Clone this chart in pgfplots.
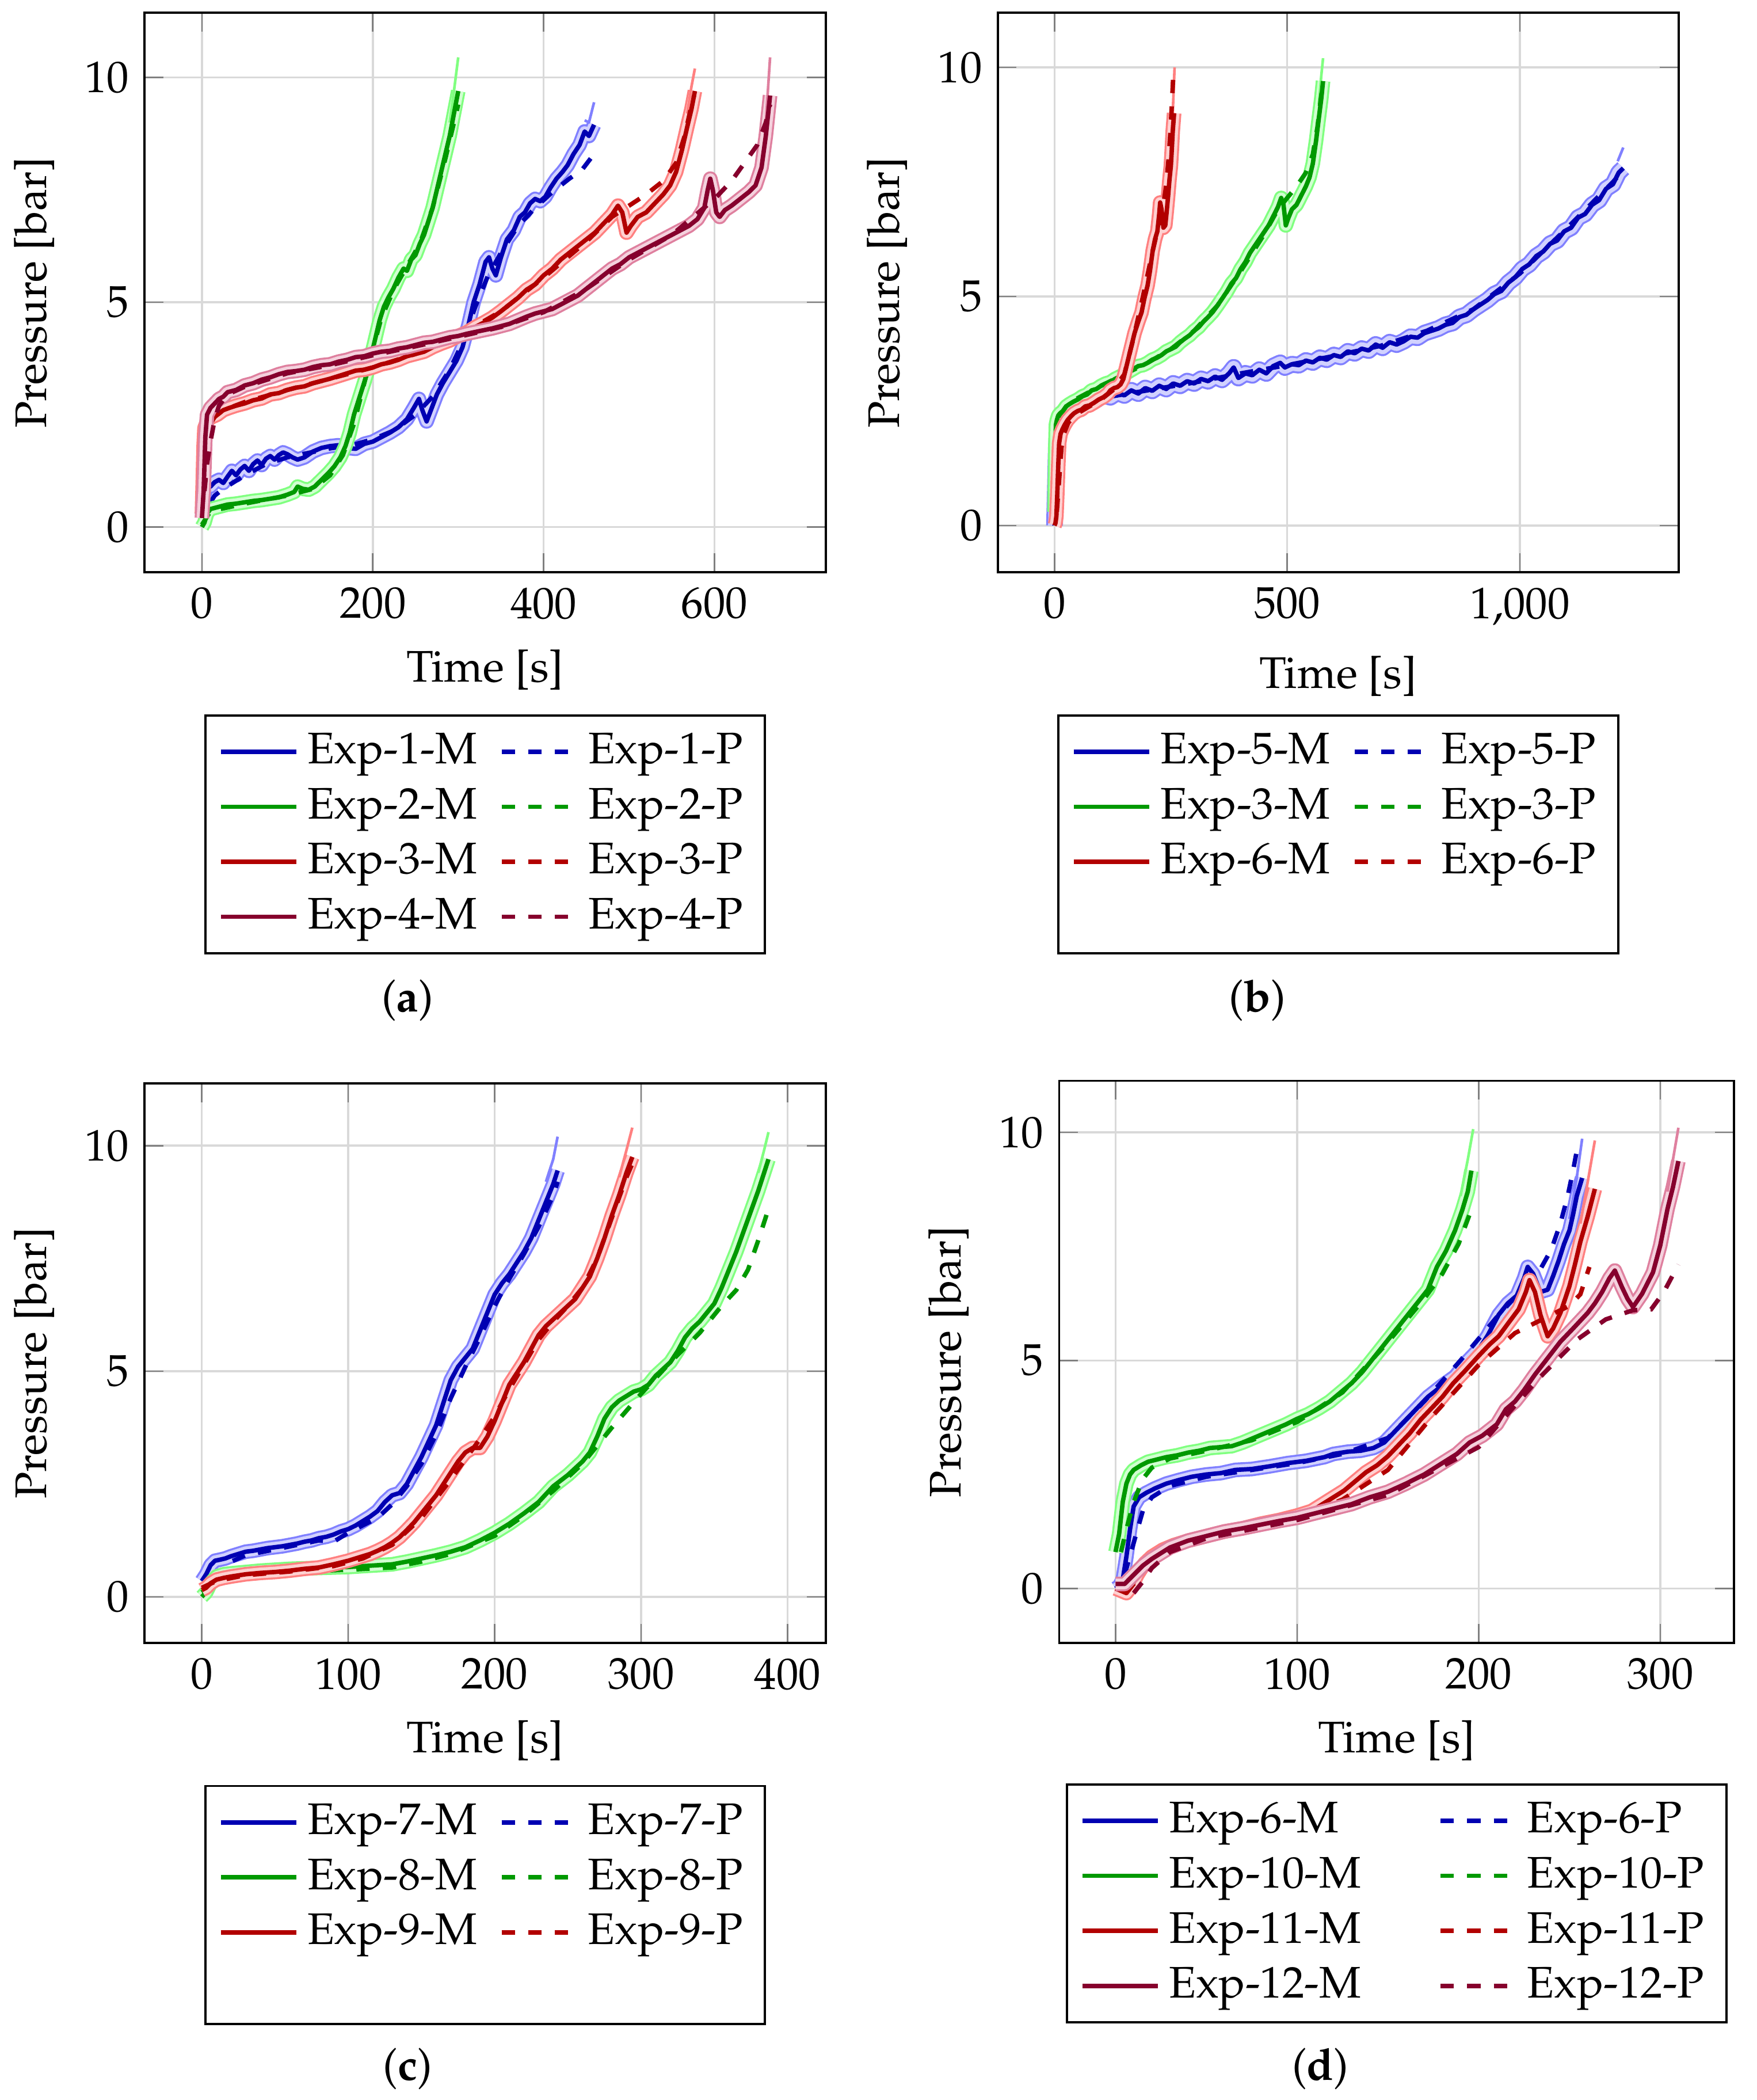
\documentclass[border=0pt]{standalone}
\usepackage[T1]{fontenc}
\usepackage{mathpazo}
\usepackage{pgfplots}
\usepackage{pgfplotstable}
\pgfplotsset{compat=1.18}

\colorlet{cB}{blue!70!black}
\colorlet{cG}{green!60!black}
\colorlet{cR}{red!70!black}
\colorlet{cP}{purple!70!black}

\pgfplotsset{
  band/.style={draw=#1!50, double=#1!18, line width=0.45pt, double distance=2.4pt, line join=round, forget plot},
  tail/.style={draw=#1!50, line width=0.6pt, line join=round, forget plot},
  meas/.style={color=#1, line width=1pt, line join=round},
  pred/.style={color=#1, line width=1pt, dashed},
  myax/.style={
    scale only axis, width=153.9pt, height=126.4pt,
    grid=major, grid style={gray!30, line width=0.45pt},
    major tick style={gray, line width=0.35pt},
    axis line style={line width=0.5pt},
    ytick={0,5,10},
    xlabel={Time [s]}, ylabel={Pressure [bar]},
    legend columns=2, legend cell align=left,
    legend style={at={(0.5,-0.254)}, anchor=north, draw=black, line width=0.5pt,
      /tikz/column 2/.style={column sep=3pt}},
  },
}

% ---------------- data ----------------
\pgfplotstableread{
t p
0 0.25
2 0.4
4 0.8
6 0.95
10 0.9
15 1.0
20 1.05
25 0.98
30 1.12
35 1.25
40 1.15
45 1.28
50 1.36
55 1.25
60 1.4
65 1.48
70 1.38
75 1.52
80 1.58
85 1.5
90 1.6
95 1.66
100 1.62
106 1.55
112 1.5
120 1.55
130 1.68
140 1.76
150 1.8
160 1.82
170 1.76
180 1.74
190 1.85
200 1.9
210 2.0
220 2.1
230 2.22
240 2.4
248 2.65
254 2.85
258 2.6
263 2.35
268 2.6
275 2.95
282 3.2
290 3.45
298 3.7
305 4.0
312 4.5
318 5.0
325 5.4
332 5.9
336 6.0
340 5.75
344 5.6
350 6.0
357 6.4
365 6.6
372 6.9
378 7.0
384 7.2
390 7.3
396 7.25
402 7.35
408 7.55
415 7.75
422 7.9
428 8.05
435 8.3
442 8.5
448 8.8
453 8.7
459 8.95
}\EoneM
\pgfplotstableread{
t p
10 0.55
15 0.7
25 0.85
50 1.15
75 1.4
100 1.55
125 1.65
150 1.75
175 1.82
200 1.95
225 2.15
250 2.5
270 2.9
290 3.5
305 4.1
320 4.9
335 5.6
350 6.1
370 6.7
390 7.1
410 7.45
430 7.75
445 7.95
455 8.2
}\EoneP
\pgfplotstableread{
t p
0 0.0
3 0.1
6 0.3
10 0.4
20 0.45
30 0.5
40 0.52
50 0.55
60 0.58
70 0.6
80 0.63
90 0.66
100 0.72
108 0.78
112 0.9
118 0.85
125 0.83
132 0.9
140 1.05
148 1.2
155 1.35
162 1.55
168 1.8
173 2.1
178 2.5
183 2.8
188 3.1
193 3.4
198 3.8
203 4.2
208 4.6
213 4.9
218 5.1
224 5.3
230 5.55
236 5.75
240 5.7
245 5.95
250 6.05
255 6.3
260 6.5
265 6.8
270 7.1
275 7.5
280 7.9
285 8.3
290 8.7
295 9.2
300 9.7
}\EtwoM
\pgfplotstableread{
t p
0 0.05
10 0.35
50 0.52
100 0.7
130 0.85
150 1.15
165 1.6
178 2.3
190 3.2
200 3.95
210 4.65
225 5.3
240 5.8
255 6.3
270 7.1
285 8.2
295 9.0
300 9.4
}\EtwoP
\pgfplotstableread{
t p
0 0.3
1 1.0
2 1.8
3 2.2
5 2.3
8 2.4
12 2.45
18 2.5
25 2.6
32 2.65
40 2.7
50 2.75
60 2.82
70 2.86
80 2.95
90 2.98
100 3.05
110 3.1
120 3.13
130 3.2
140 3.25
150 3.3
160 3.36
170 3.42
180 3.48
190 3.5
200 3.55
210 3.62
220 3.66
230 3.72
240 3.8
250 3.85
260 3.9
270 4.0
280 4.08
290 4.15
300 4.25
310 4.33
320 4.45
330 4.55
340 4.66
350 4.8
360 4.95
370 5.1
380 5.28
390 5.4
400 5.6
410 5.75
420 5.95
430 6.1
440 6.25
450 6.4
460 6.55
470 6.75
480 6.95
487 7.15
492 7.0
497 6.55
502 6.7
510 6.9
520 7.0
530 7.2
540 7.4
548 7.6
555 7.9
562 8.4
568 8.9
573 9.3
577 9.7
}\EthreeM
\pgfplotstableread{
t p
0 1.2
3 1.6
6 2.0
10 2.3
15 2.45
25 2.6
50 2.78
100 3.05
150 3.3
200 3.55
250 3.85
300 4.25
350 4.8
400 5.55
450 6.35
480 6.9
500 7.15
520 7.4
540 7.7
555 8.1
565 8.7
572 9.3
576 9.6
}\EthreeP
\pgfplotstableread{
t p
0 0.2
2 0.8
4 2.0
6 2.5
10 2.65
15 2.75
20 2.85
25 2.9
30 3.0
40 3.05
50 3.15
60 3.2
70 3.28
80 3.33
90 3.4
100 3.45
110 3.47
120 3.5
130 3.56
140 3.6
150 3.62
160 3.68
170 3.72
180 3.78
190 3.8
200 3.86
210 3.9
220 3.92
230 3.97
240 4.0
250 4.05
260 4.1
270 4.12
280 4.17
290 4.22
300 4.25
310 4.3
320 4.34
330 4.38
340 4.42
350 4.47
360 4.52
370 4.6
380 4.68
390 4.75
400 4.8
410 4.85
420 4.95
430 5.05
440 5.15
450 5.3
460 5.45
470 5.6
480 5.75
490 5.85
500 6.0
510 6.1
520 6.2
530 6.3
540 6.4
550 6.5
560 6.6
570 6.7
580 6.85
588 7.1
592 7.5
595 7.75
598 7.5
602 7.0
606 6.9
612 7.05
620 7.15
630 7.3
640 7.45
648 7.6
655 8.0
660 8.7
665 9.6
}\EfourM
\pgfplotstableread{
t p
3 0.8
6 1.4
10 1.9
15 2.4
20 2.7
30 2.95
50 3.12
100 3.42
150 3.6
200 3.82
250 4.02
300 4.23
350 4.45
400 4.78
450 5.3
500 5.95
550 6.5
600 7.3
620 7.7
635 8.1
650 8.5
660 9.0
665 9.4
}\EfourP
\pgfplotstableread{
t p
0 0.0
2 0.8
4 1.7
6 2.0
10 2.2
20 2.4
30 2.5
45 2.62
60 2.66
75 2.78
90 2.74
105 2.85
120 2.8
135 2.9
150 2.84
165 2.95
180 2.88
195 3.0
210 2.94
225 3.05
240 2.98
255 3.1
270 3.05
285 3.15
300 3.1
315 3.2
330 3.15
345 3.25
360 3.18
375 3.32
385 3.45
395 3.22
410 3.32
425 3.28
440 3.4
455 3.32
470 3.48
485 3.55
495 3.45
510 3.52
525 3.5
540 3.6
555 3.56
570 3.66
585 3.62
600 3.72
615 3.68
630 3.8
645 3.76
660 3.86
675 3.82
690 3.95
705 3.88
720 4.0
735 3.95
750 4.02
765 4.12
780 4.1
795 4.2
810 4.25
825 4.3
840 4.38
855 4.42
870 4.55
885 4.6
900 4.72
915 4.82
930 4.92
945 5.05
960 5.12
975 5.3
990 5.42
1005 5.6
1020 5.7
1035 5.88
1050 5.98
1065 6.15
1080 6.22
1095 6.42
1110 6.5
1125 6.72
1140 6.8
1155 7.0
1170 7.1
1185 7.35
1200 7.45
1212 7.7
1222 7.8
}\EfiveM
\pgfplotstableread{
t p
0 0.0
5 1.5
10 2.1
30 2.45
100 2.78
200 2.95
300 3.12
400 3.32
500 3.5
600 3.7
700 3.92
800 4.25
900 4.72
1000 5.5
1100 6.48
1200 7.5
1222 7.75
}\EfiveP
\pgfplotstableread{
t p
0 0.0
2 0.05
4 0.2
6 0.7
8 1.3
10 1.8
13 2.0
17 2.1
22 2.2
28 2.3
35 2.38
42 2.45
50 2.5
58 2.53
66 2.6
75 2.62
85 2.68
95 2.75
105 2.8
115 2.88
120 2.95
128 3.0
135 3.02
142 3.08
148 3.2
154 3.45
160 3.7
166 3.95
172 4.2
180 4.45
187 4.65
193 4.95
200 5.24
205 5.55
211 6.0
216 6.25
221 6.42
225 6.8
227 7.05
230 6.9
234 6.5
238 6.55
241 6.85
244 7.18
247 7.55
250 7.85
252 8.2
254 8.6
257 9.0
}\EsixM
\pgfplotstableread{
t p
5 0.3
10 1.0
15 1.7
20 2.0
30 2.25
50 2.45
75 2.6
100 2.75
125 2.95
150 3.3
170 4.1
190 5.0
210 5.95
225 6.6
234 7.0
240 7.43
245 8.0
249 8.6
252 9.16
255 9.8
}\EsixP
\pgfplotstableread{
t p
0 0.35
3 0.5
6 0.7
9 0.8
12 0.82
16 0.85
20 0.9
25 0.95
30 1.0
35 1.02
40 1.05
45 1.08
50 1.1
55 1.12
60 1.15
65 1.18
70 1.22
75 1.25
80 1.3
85 1.33
90 1.38
95 1.45
100 1.5
105 1.58
110 1.68
115 1.78
120 1.9
125 2.1
130 2.25
135 2.3
140 2.5
145 2.8
150 3.1
155 3.45
160 3.8
165 4.3
170 4.8
175 5.1
180 5.3
185 5.5
190 5.9
195 6.3
200 6.7
205 6.95
210 7.15
215 7.4
220 7.65
225 7.95
230 8.35
235 8.75
240 9.15
243 9.45
}\EsevenM
\pgfplotstableread{
t p
8 0.4
12 0.55
18 0.75
30 0.92
50 1.05
80 1.25
90 1.22
100 1.42
120 1.75
130 2.05
140 2.45
150 2.95
160 3.6
170 4.4
180 5.1
190 5.75
200 6.45
210 7.05
220 7.6
230 8.2
240 8.9
243 9.2
}\EsevenP
\pgfplotstableread{
t p
0 0.0
3 0.1
6 0.3
10 0.45
15 0.5
20 0.52
30 0.55
40 0.58
50 0.6
60 0.62
70 0.63
80 0.64
90 0.65
100 0.66
110 0.68
120 0.7
130 0.72
140 0.78
150 0.85
160 0.92
170 1.0
180 1.1
190 1.25
200 1.42
210 1.62
220 1.85
230 2.1
240 2.45
250 2.7
260 3.0
265 3.2
270 3.55
275 3.95
280 4.2
285 4.35
290 4.45
295 4.55
300 4.6
305 4.7
310 4.9
315 5.05
320 5.2
325 5.45
330 5.75
335 5.95
340 6.1
345 6.3
350 6.5
355 6.85
360 7.25
365 7.65
370 8.1
375 8.55
380 9.0
384 9.4
387 9.7
}\EeightM
\pgfplotstableread{
t p
0 0.1
10 0.35
30 0.5
60 0.55
100 0.6
130 0.65
150 0.78
170 0.95
200 1.35
220 1.8
240 2.35
260 2.95
280 3.75
300 4.5
320 5.2
340 5.85
355 6.45
365 6.8
373 7.25
380 7.9
387 8.6
}\EeightP
\pgfplotstableread{
t p
0 0.15
3 0.2
6 0.3
10 0.38
15 0.42
20 0.45
30 0.5
40 0.53
50 0.55
60 0.58
70 0.62
80 0.65
90 0.72
100 0.8
105 0.85
110 0.9
115 0.95
120 1.02
125 1.1
130 1.2
135 1.32
140 1.48
145 1.65
150 1.85
155 2.05
160 2.25
165 2.5
170 2.75
175 3.0
180 3.2
185 3.3
190 3.3
195 3.55
200 3.9
205 4.3
210 4.7
215 4.95
220 5.2
225 5.5
230 5.8
235 6.0
240 6.15
245 6.3
250 6.45
255 6.6
260 6.85
265 7.1
270 7.5
275 7.95
280 8.45
285 8.9
290 9.4
294 9.75
}\EnineM
\pgfplotstableread{
t p
0 0.2
10 0.35
30 0.48
60 0.56
90 0.68
110 0.85
130 1.15
150 1.75
170 2.6
190 3.5
200 4.0
210 4.6
220 5.15
230 5.7
240 6.1
250 6.45
260 6.85
270 7.5
280 8.4
290 9.3
294 9.6
}\EnineP
\pgfplotstableread{
t p
0 0.8
2 1.2
4 1.9
6 2.3
8 2.5
10 2.6
14 2.7
18 2.78
22 2.82
28 2.88
34 2.92
40 2.98
46 3.02
52 3.08
58 3.1
64 3.12
70 3.2
76 3.3
82 3.4
88 3.5
94 3.6
100 3.72
106 3.82
112 3.95
118 4.1
124 4.3
130 4.5
136 4.75
142 5.05
148 5.35
154 5.65
160 5.95
166 6.25
172 6.55
177 7.05
182 7.4
187 7.85
191 8.3
194 8.7
196 9.16
}\EtenM
\pgfplotstableread{
t p
3 0.8
6 1.3
10 1.9
15 2.4
20 2.65
30 2.85
50 3.02
75 3.25
100 3.65
125 4.3
150 5.4
170 6.35
180 6.9
189 7.56
195 8.2
}\EtenP
\pgfplotstableread{
t p
0 0.0
3 -0.05
6 -0.1
9 0.05
12 0.3
16 0.55
20 0.7
26 0.85
32 0.95
40 1.05
50 1.15
60 1.25
70 1.32
80 1.42
90 1.5
100 1.6
108 1.7
114 1.85
120 2.0
126 2.15
132 2.35
138 2.55
144 2.7
150 2.9
156 3.15
162 3.4
168 3.7
174 3.95
180 4.2
186 4.5
192 4.75
200 5.1
206 5.35
211 5.53
216 5.8
222 6.12
226 6.5
228 6.76
231 6.5
234 6.0
238 5.53
241 5.7
245 6.04
250 6.63
253 7.1
256 7.6
260 8.15
264 8.76
}\EelevenM
\pgfplotstableread{
t p
5 -0.1
10 0.1
15 0.4
25 0.8
50 1.15
100 1.55
125 1.95
150 2.6
175 3.8
200 4.9
220 5.6
240 6.0
250 6.2
256 6.45
261 7.05
}\EelevenP
\pgfplotstableread{
t p
0 0.1
5 0.1
10 0.3
15 0.5
20 0.65
30 0.9
40 1.05
50 1.15
60 1.25
70 1.32
80 1.4
90 1.48
100 1.55
110 1.65
120 1.75
130 1.85
140 2.0
150 2.12
160 2.3
170 2.5
180 2.75
188 2.95
195 3.2
202 3.35
210 3.6
215 3.93
220 4.1
225 4.35
231 4.69
238 5.05
245 5.41
252 5.7
260 6.04
264 6.25
268 6.5
272 6.8
275 6.97
279 6.6
282 6.35
285 6.17
290 6.46
296 6.93
300 7.52
304 8.32
307 8.8
310 9.37
}\EtwelveM
\pgfplotstableread{
t p
10 -0.1
15 0.15
20 0.45
30 0.8
50 1.1
100 1.5
150 2.05
200 3.1
233 4.6
254 5.45
270 5.9
285 6.1
295 6.12
302 6.5
310 7.1
}\EtwelveP

\begin{document}
\begin{tikzpicture}
\useasboundingbox (0,0) rectangle (397pt,474.5pt);

% ---------------- (a) ----------------
\begin{axis}[myax, at={(32.7pt,345.2pt)}, anchor=south west,
  xmin=-67, xmax=730, ymin=-1.006, ymax=11.44, xtick={0,200,400,600}]
\addplot[band=blue] table {\EoneM};
\addplot[tail=blue] coordinates {(448,9.05)(453,9.0)(459,9.45)};
\addplot[meas=cB] table {\EoneM};
\addplot[pred=cB] table {\EoneP};
\addplot[band=green] table {\EtwoM};
\addplot[tail=green] coordinates {(290,9.0)(295,9.7)(300,10.45)};
\addplot[meas=cG] table {\EtwoM};
\addplot[pred=cG] table {\EtwoP};
\addplot[band=red] table {\EthreeM};
\addplot[tail=red] coordinates {(568,9.2)(573,9.8)(577,10.2)};
\addplot[meas=cR] table {\EthreeM};
\addplot[pred=cR] table {\EthreeP};
\addplot[band=purple] table {\EfourM};
\addplot[tail=purple] coordinates {(660,9.0)(665,10.45)};
\addplot[meas=cP] table {\EfourM};
\addplot[pred=cP] table {\EfourP};
\legend{Exp-1-M,Exp-1-P,Exp-2-M,Exp-2-P,Exp-3-M,Exp-3-P,Exp-4-M,Exp-4-P}
\end{axis}

% ---------------- (b) ----------------
\begin{axis}[myax, at={(225.5pt,345.2pt)}, anchor=south west,
  xmin=-122, xmax=1341, ymin=-1.02, ymax=11.19, xtick={0,500,1000}]
\addplot[band=blue, double distance=2.9pt] table {\EfiveM};
\addplot[tail=blue] coordinates {(1210,7.95)(1222,8.25)};
\addplot[meas=cB] table {\EfiveM};
\addplot[pred=cB] table {\EfiveP};
\addplot[band=green] table {\EthreeM};
\addplot[tail=green] coordinates {(568,9.2)(573,9.8)(577,10.2)};
\addplot[meas=cG] table {\EthreeM};
\addplot[pred=cG] table {\EthreeP};
\addplot[band=red] table {\EsixM};
\addplot[tail=red] coordinates {(250,8.1)(254,9.0)(258,10.0)};
\addplot[meas=cR] table {\EsixM};
\addplot[pred=cR] table {\EsixP};
\addlegendimage{empty legend}
\addlegendimage{empty legend}
\legend{Exp-5-M,Exp-5-P,Exp-3-M,Exp-3-P,Exp-6-M,Exp-6-P,\phantom{E},\phantom{E}}
\end{axis}

% ---------------- (c) ----------------
\begin{axis}[myax, at={(32.7pt,103.3pt)}, anchor=south west,
  xmin=-39, xmax=426, ymin=-1.02, ymax=11.38, xtick={0,100,200,300,400}]
\addplot[band=blue] table {\EsevenM};
\addplot[tail=blue] coordinates {(235,9.2)(240,9.7)(243,10.2)};
\addplot[meas=cB] table {\EsevenM};
\addplot[pred=cB] table {\EsevenP};
\addplot[band=green] table {\EeightM};
\addplot[tail=green] coordinates {(380,9.4)(384,9.9)(387,10.3)};
\addplot[meas=cG] table {\EeightM};
\addplot[pred=cG] table {\EeightP};
\addplot[band=red] table {\EnineM};
\addplot[tail=red] coordinates {(285,9.3)(290,9.9)(294,10.4)};
\addplot[meas=cR] table {\EnineM};
\addplot[pred=cR] table {\EnineP};
\addlegendimage{empty legend}
\addlegendimage{empty legend}
\legend{Exp-7-M,Exp-7-P,Exp-8-M,Exp-8-P,Exp-9-M,Exp-9-P,\phantom{E},\phantom{E}}
\end{axis}

% ---------------- (d) ----------------
\begin{axis}[myax, at={(239.4pt,103.3pt)}, anchor=south west, width=152.5pt, height=127pt,
  xmin=-31, xmax=340.6, ymin=-1.19, ymax=11.13, xtick={0,100,200,300},
  legend style={at={(0.5,-0.25)}, /tikz/column 2/.style={column sep=15.5pt}}]
\addplot[band=blue] table {\EsixM};
\addplot[tail=blue] coordinates {(250,8.1)(254,9.0)(257,9.86)};
\addplot[meas=cB] table {\EsixM};
\addplot[pred=cB] table {\EsixP};
\addplot[band=green] table {\EtenM};
\addplot[tail=green] coordinates {(190,8.6)(194,9.4)(197,10.07)};
\addplot[meas=cG] table {\EtenM};
\addplot[pred=cG] table {\EtenP};
\addplot[band=red] table {\EelevenM};
\addplot[tail=red] coordinates {(256,8.0)(260,8.9)(264,9.82)};
\addplot[meas=cR] table {\EelevenM};
\addplot[pred=cR] table {\EelevenP};
\addplot[band=purple] table {\EtwelveM};
\addplot[tail=purple] coordinates {(304,8.7)(307,9.4)(310,10.1)};
\addplot[meas=cP] table {\EtwelveM};
\addplot[pred=cP] table {\EtwelveP};
\legend{Exp-6-M,Exp-6-P,Exp-10-M,Exp-10-P,Exp-11-M,Exp-11-P,Exp-12-M,Exp-12-P}
\end{axis}

\node at (92.1pt,248.5pt) {(\textbf{a})};
\node at (284.2pt,248.5pt) {(\textbf{b})};
\node at (92.1pt,7pt) {(\textbf{c})};
\node at (298.4pt,7pt) {(\textbf{d})};
\end{tikzpicture}
\end{document}
